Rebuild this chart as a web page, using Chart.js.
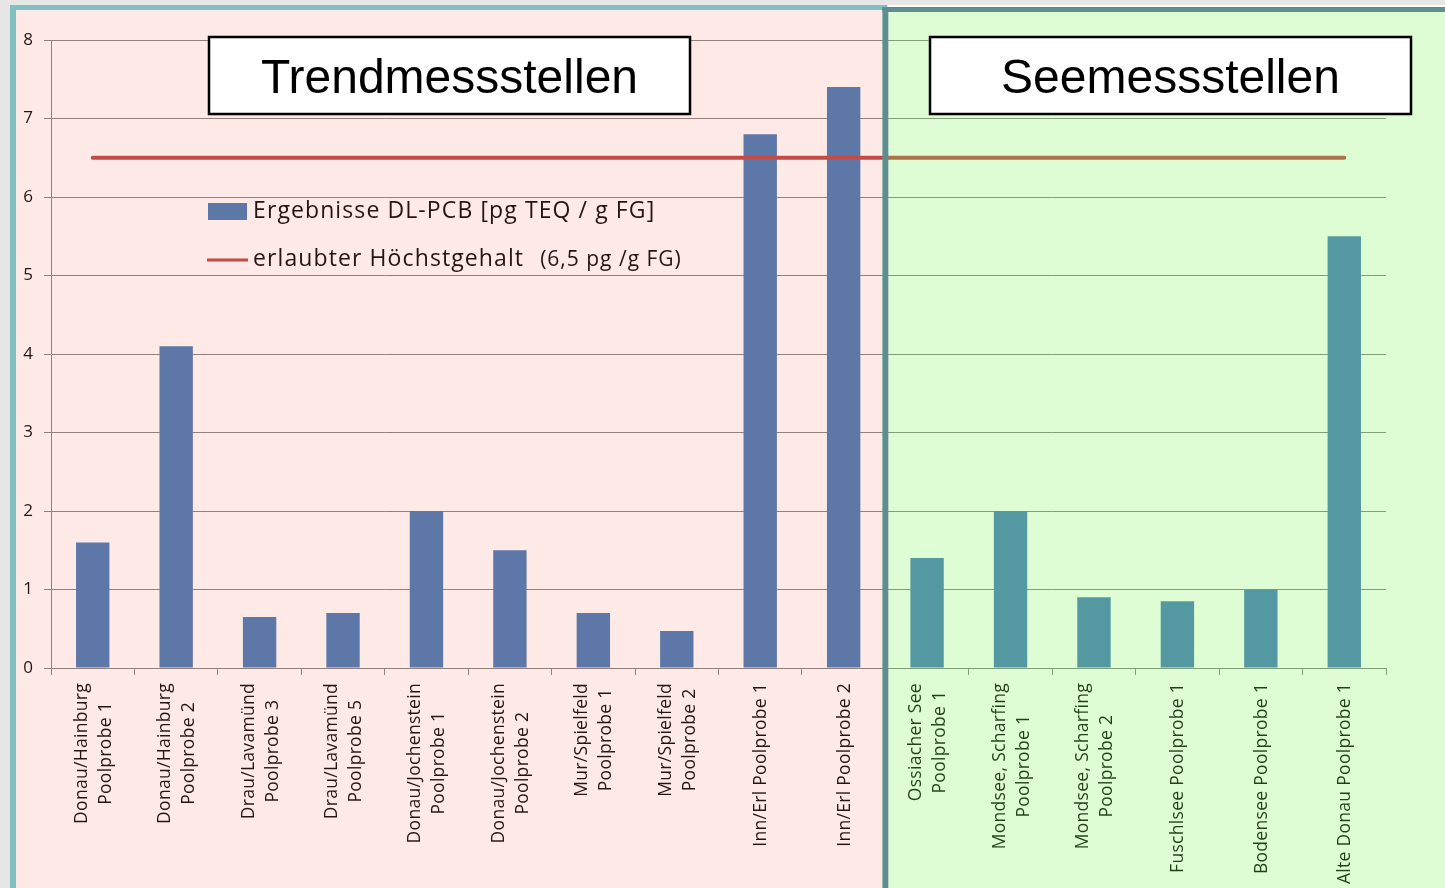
<!DOCTYPE html>
<html>
<head>
<meta charset="utf-8">
<script src="https://cdn.jsdelivr.net/npm/chart.js@4"></script>
<style>
  html, body { margin: 0; padding: 0; background: #e6e6e6; }
  canvas { display: block; }
</style>
</head>
<body>
<canvas id="myChart" width="1445" height="888"></canvas>
<script>
// Sample names (x axis), split into lines as in the original
const categories = [
    ['Donau/Hainburg', 'Poolprobe 1'],
    ['Donau/Hainburg', 'Poolprobe 2'],
    ['Drau/Lavamünd', 'Poolprobe 3'],
    ['Drau/Lavamünd', 'Poolprobe 5'],
    ['Donau/Jochenstein', 'Poolprobe 1'],
    ['Donau/Jochenstein', 'Poolprobe 2'],
    ['Mur/Spielfeld', 'Poolprobe 1'],
    ['Mur/Spielfeld', 'Poolprobe 2'],
    ['Inn/Erl Poolprobe 1'],
    ['Inn/Erl Poolprobe 2'],
    ['Ossiacher See', 'Poolprobe 1'],
    ['Mondsee, Scharfing', 'Poolprobe 1'],
    ['Mondsee, Scharfing', 'Poolprobe 2'],
    ['Fuschlsee Poolprobe 1'],
    ['Bodensee Poolprobe 1'],
    ['Alte Donau Poolprobe 1']
];

// DL-PCB results [pg TEQ / g FG]
const results = [1.6, 4.1, 0.65, 0.7, 2.0, 1.5, 0.7, 0.47, 6.8, 7.4, 1.4, 2.0, 0.9, 0.85, 1.0, 5.5];

// allowed maximum (6,5 pg / g FG)
const limit = [6.5, 6.5, 6.5, 6.5, 6.5, 6.5, 6.5, 6.5, 6.5, 6.5, 6.5, 6.5, 6.5, 6.5, 6.5, 6.5];

// groups of sampling sites
const groupNames = ['Trendmessstellen', 'Seemessstellen'];
const groupSizes = [10, 6];

const yTicks = [0, 1, 2, 3, 4, 5, 6, 7, 8];

const labelResults = 'Ergebnisse DL-PCB [pg TEQ / g FG]';
const labelLimit = 'erlaubter Höchstgehalt';
const labelLimitNote = '(6,5 pg /g FG)';

const textFont = '"Open Sans", Lato, sans-serif';

// Draws the rotated x labels, the legend, the coloured panels and the group boxes
const panelPlugin = {
    id: 'panels',
    beforeDraw(chart) {
        const c = chart.ctx;
        c.save();
        c.fillStyle = '#e6e6e6';
        c.fillRect(0, 0, chart.width, chart.height);
        c.fillStyle = '#ffffff';
        c.fillRect(10, 5, chart.width - 10, chart.height - 5);
        c.restore();
    },
    afterDraw(chart) {
        const c = chart.ctx;
        const x = chart.scales.x;
        const area = chart.chartArea;

        // x labels, rotated, centred on the longest line
        c.save();
        c.fillStyle = '#111111';
        c.font = '17.5px ' + textFont;
        c.letterSpacing = '0.3px';
        c.textAlign = 'center';
        c.textBaseline = 'middle';
        const lineH = 24;
        categories.forEach((lines, i) => {
            const cx = x.getPixelForValue(i) + 1;
            let w = 0;
            lines.forEach(l => { w = Math.max(w, c.measureText(l).width); });
            c.save();
            c.translate(cx, area.bottom + 15 + w / 2);
            c.rotate(-Math.PI / 2);
            lines.forEach((l, j) => {
                c.fillText(l, 0, (j - (lines.length - 1) / 2) * lineH);
            });
            c.restore();
        });
        c.restore();

        // legend inside the plot
        c.save();
        c.fillStyle = '#4f81bd';
        c.fillRect(208, 203, 39, 17);
        c.strokeStyle = '#c0504d';
        c.lineWidth = 3;
        c.beginPath();
        c.moveTo(207, 260);
        c.lineTo(248, 260);
        c.stroke();
        c.fillStyle = '#111111';
        c.textBaseline = 'middle';
        c.textAlign = 'left';
        c.letterSpacing = '1.1px';
        c.font = '23px ' + textFont;
        c.fillText(labelResults, 253, 211);
        c.fillText(labelLimit, 253, 259);
        const w1 = c.measureText(labelLimit).width;
        c.font = '21px ' + textFont;
        c.letterSpacing = '1px';
        c.fillText(labelLimitNote, 253 + w1 + 16, 260);
        c.restore();

        // split between the two groups
        const split = (x.getPixelForValue(groupSizes[0] - 1) + x.getPixelForValue(groupSizes[0])) / 2;

        c.save();
        // translucent panels
        c.fillStyle = 'rgba(235, 39, 0, 0.10)';
        c.fillRect(16, 10, split - 3 - 16, chart.height - 10);
        c.fillStyle = 'rgba(102, 245, 55, 0.21)';
        c.fillRect(split + 3, 12, chart.width - split - 3, chart.height - 12);
        // panel borders
        c.fillStyle = '#7fc1c1';
        c.fillRect(10, 5, 6, chart.height - 5);
        c.fillRect(10, 5, split + 2 - 10, 5);
        c.fillStyle = '#5f8f8d';
        c.fillRect(split - 3, 7, 6, chart.height - 7);
        c.fillRect(split - 3, 7, chart.width - split + 3, 5);
        c.restore();

        // group title boxes
        const boxes = [[209, 37, 481, 77], [930, 37, 481, 77]];
        c.save();
        c.font = '48px "Liberation Sans", Arial, sans-serif';
        c.textAlign = 'center';
        c.textBaseline = 'middle';
        groupNames.forEach((name, i) => {
            const b = boxes[i];
            c.fillStyle = '#ffffff';
            c.fillRect(b[0], b[1], b[2], b[3]);
            c.strokeStyle = '#000000';
            c.lineWidth = 2.5;
            c.strokeRect(b[0], b[1], b[2], b[3]);
            c.fillStyle = '#000000';
            c.fillText(name, b[0] + b[2] / 2, b[1] + b[3] / 2 + 4);
        });
        c.restore();
    }
};

const ctx = document.getElementById('myChart').getContext('2d');
const myChart = new Chart(ctx, {
    type: 'bar',
    data: {
        labels: categories,
        datasets: [{
            type: 'line',
            label: labelLimit + '   ' + labelLimitNote,
            data: limit,
            borderColor: '#c0504d',
            borderWidth: 4,
            borderCapStyle: 'round',
            pointRadius: 0,
            order: 0
        }, {
            label: labelResults,
            data: results,
            backgroundColor: '#4f81bd',
            borderWidth: 0,
            barPercentage: 0.4,
            categoryPercentage: 1,
            order: 1
        }]
    },
    options: {
        responsive: false,
        animation: false,
        devicePixelRatio: 1,
        layout: {
            padding: { top: 40, right: 59, left: 0, bottom: 0 }
        },
        plugins: {
            legend: { display: false },
            tooltip: { enabled: false }
        },
        scales: {
            x: {
                grid: {
                    drawOnChartArea: false,
                    color: '#8a8a8a',
                    tickLength: 7
                },
                border: { color: '#8a8a8a' },
                ticks: { display: false },
                afterFit(scale) { scale.height = 220; }
            },
            y: {
                min: 0,
                max: 8,
                afterBuildTicks(scale) { scale.ticks = yTicks.map(v => ({ value: v })); },
                grid: {
                    color: '#8a8a8a',
                    tickLength: 7
                },
                border: { color: '#8a8a8a' },
                ticks: {
                    padding: 11,
                    color: '#111111',
                    font: { family: textFont, size: 17 }
                },
                afterFit(scale) { scale.width = 51; }
            }
        }
    },
    plugins: [panelPlugin]
});
</script>
</body>
</html>
